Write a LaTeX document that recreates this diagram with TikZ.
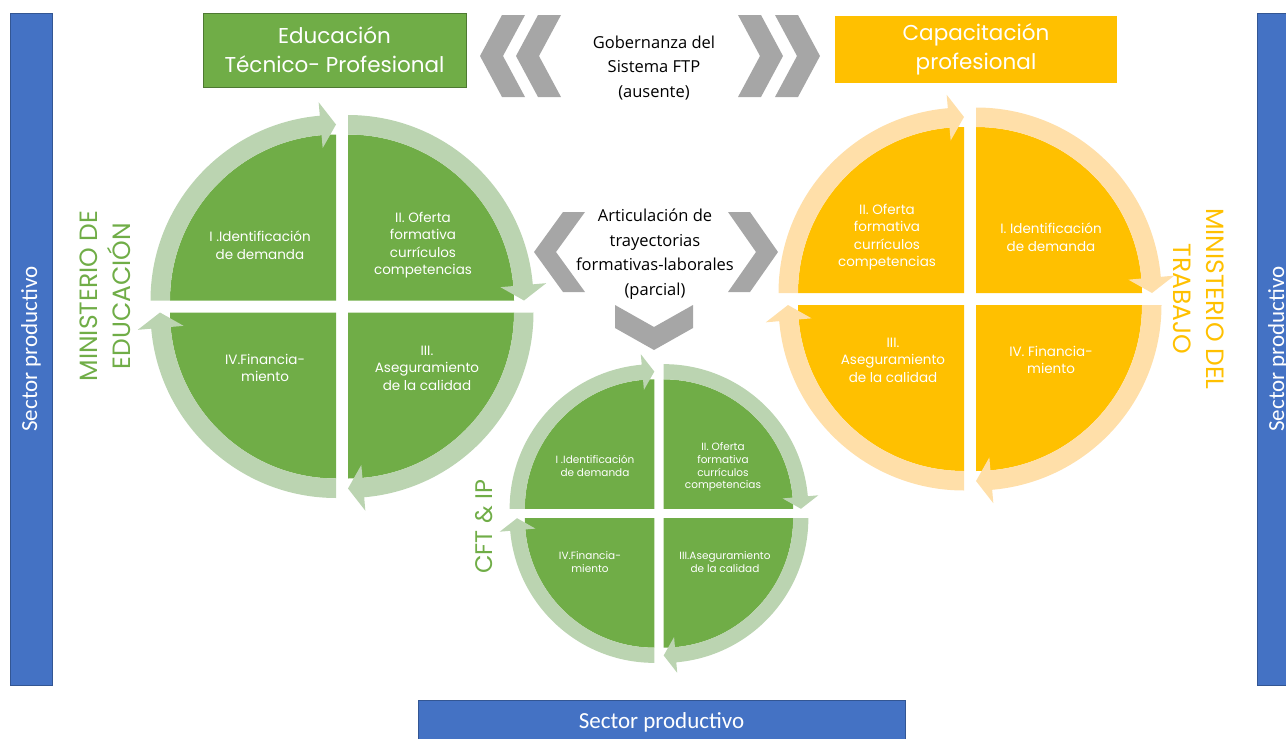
\documentclass[tikz,border=0pt]{standalone}
\usepackage{fontspec}
\setmainfont{Poppins}
\newfontfamily\labelfont{Open Sans}
\newfontfamily\sectorfont{Carlito}
\usetikzlibrary{positioning}

\definecolor{edugreen}{HTML}{70AD47}
\definecolor{ringgreen}{HTML}{BBD4B1}
\definecolor{capyellow}{HTML}{FFC000}
\definecolor{ringyellow}{HTML}{FFDFA9}
\definecolor{sectorblue}{HTML}{4472C4}
\definecolor{chevgray}{HTML}{A6A6A6}

\begin{document}
\begin{tikzpicture}[x=1pt, y=1pt,
  sector/.style={fill=sectorblue, draw=sectorblue!75!black, text=white, minimum width=672pt, minimum height=42pt, font=\sectorfont\fontsize{23}{26}\selectfont},
  title/.style={text=white, align=center, font=\fontsize{21.5}{29}\selectfont},
  quadtext/.style={text=white, align=center, font=\fontsize{13.5}{17.5}\selectfont},
  smalltext/.style={text=white, align=center, font=\fontsize{10.5}{12.7}\selectfont},
  midtext/.style={align=center, font=\labelfont\fontsize{16.5}{24.6}\selectfont},
  ministry/.style={align=center, font=\fontsize{25}{33}\selectfont},
  chevron/.style={fill=chevgray}]

\useasboundingbox (0,0) rectangle (1286,-739);

% four quarters with their curved arrows
\def\cyclefour#1#2#3#4{%
  \begin{scope}[shift={(#1)}, scale=#2]
    \foreach \cx/\cy/\a in {-6/6/180, 6/6/90, 6/-6/0, -6/-6/-90} {
      \begin{scope}[shift={(\cx,\cy)}]
        \fill[#3] (0,0) -- (\a:166) arc[start angle=\a, end angle=\a-90, radius=166] -- cycle;
        \fill[#4] (\a:166) arc[start angle=\a, end angle=\a-85, radius=166]
          -- ({\a-85}:153) -- ({\a-90}:176) -- ({\a-85}:199) -- ({\a-85}:185.5)
          arc[start angle=\a-85, end angle=\a, radius=185.5] -- cycle;
      \end{scope}
    }
  \end{scope}}

% Sector bars
\node[sector, rotate=90] (leftbar) at (31,-349) {Sector productivo};
\node[sector, rotate=90] (rightbar) at (1278,-349) {Sector productivo};
\node[sector, minimum width=487pt, minimum height=45pt] (bottombar) at (661.5,-722.5) {Sector productivo};

% Title boxes
\node[title, fill=edugreen, draw=edugreen!70!black, minimum width=263pt, minimum height=74pt] (etp) at (334.5,-50) {Educación\\Técnico- Profesional};
\node[title, fill=capyellow, minimum width=282pt, minimum height=67pt] (capac) at (976,-49.5) {Capacitación\\profesional};

% Chevrons
\foreach \tx in {480,516}
  \fill[chevron] (\tx,-56) -- ++(22,41) -- ++(23,0) -- ++(-22,-41) -- ++(22,-41) -- ++(-23,0) -- cycle;
\foreach \tx in {738,775}
  \fill[chevron] (\tx,-15) -- ++(23,0) -- ++(22,-41) -- ++(-22,-41) -- ++(-23,0) -- ++(22,41) -- cycle;
\fill[chevron] (534,-252) -- ++(29,40) -- ++(22,0) -- ++(-29,-40) -- ++(29,-40) -- ++(-22,0) -- cycle;
\fill[chevron] (728,-212) -- ++(22,0) -- ++(28,-40) -- ++(-28,-40) -- ++(-22,0) -- ++(28,40) -- cycle;
\fill[chevron] (615,-305) -- (654,-327) -- (693,-305) -- (693,-328) -- (654,-350) -- (615,-328) -- cycle;

% Cycles
\cyclefour{342,-306.5}{1}{edugreen}{ringgreen}
\cyclefour{970,-299}{1}{capyellow}{ringyellow}
\cyclefour{659,-513.5}{0.78}{edugreen}{ringgreen}

% Middle texts
\node[midtext] (gov) at (654,-68) {Gobernanza del\\Sistema FTP\\(ausente)};
\node[midtext] (artic) at (655,-254) {Articulación de\\trayectorias\\formativas-laborales\\(parcial)};

% Education cycle
\node[quadtext] (edu1) at (260,-245) {I .Identificación\\de demanda};
\node[quadtext] (edu2) at (423,-245) {II. Oferta\\formativa\\currículos\\competencias};
\node[quadtext] (edu3) at (427,-368) {III.\\Aseguramiento\\de la calidad};
\node[quadtext] (edu4) at (265,-368) {IV.Financia-\\miento};

% Labour cycle
\node[quadtext] (lab1) at (1051,-237) {I. Identificación\\de demanda};
\node[quadtext] (lab2) at (887,-237) {II. Oferta\\formativa\\currículos\\competencias};
\node[quadtext] (lab3) at (893,-360) {III.\\Aseguramiento\\de la calidad};
\node[quadtext] (lab4) at (1051,-360) {IV. Financia-\\miento};

% CFT cycle
\node[smalltext] (cft1) at (595,-466) {I .Identificación\\de demanda};
\node[smalltext] (cft2) at (723,-467) {II. Oferta\\formativa\\currículos\\competencias};
\node[smalltext] (cft3) at (725,-562) {III.Aseguramiento\\de la calidad};
\node[smalltext] (cft4) at (590,-562) {IV.Financia-\\miento};

% Ministries
\node[ministry, text=edugreen, rotate=90] (mined) at (105.5,-296) {MINISTERIO DE\\EDUCACIÓN};
\node[ministry, text=capyellow, rotate=-90] (mintr) at (1199,-299) {MINISTERIO DEL\\TRABAJO};
\node[ministry, text=edugreen, rotate=90, font=\fontsize{24}{28}\selectfont] (cft) at (484,-527) {CFT \& IP};

\end{tikzpicture}
\end{document}
